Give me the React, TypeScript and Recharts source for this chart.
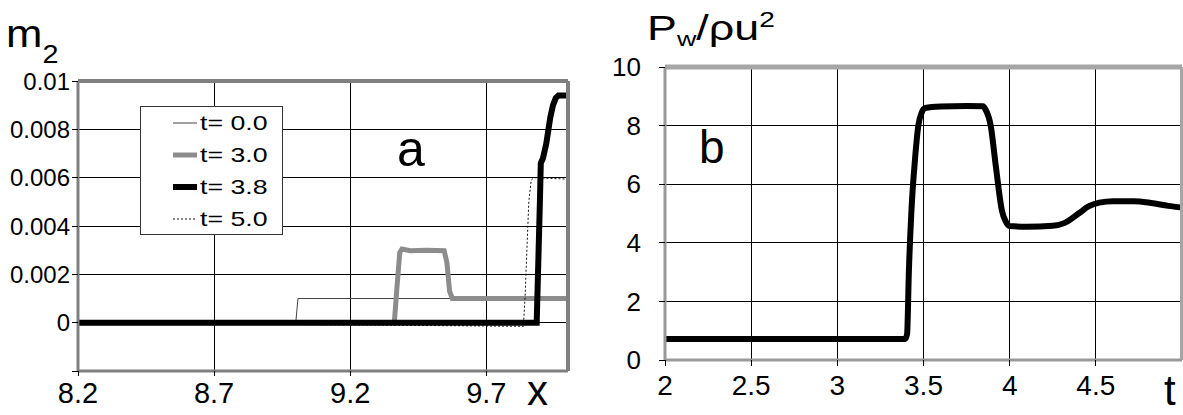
import React from 'react';
import { CartesianGrid, Legend, Line, LineChart, ReferenceLine, XAxis, YAxis } from 'recharts';

const FONT = '"Liberation Sans", Arial, Helvetica, sans-serif';

// panel a: m2 profiles along x at four moments
const xTicksA = [8.2, 8.7, 9.2, 9.7];
const yTicksA = [-0.002, 0, 0.002, 0.004, 0.006, 0.008, 0.01];

const profileT00 = [
  { x: 8.2, y: 0 },
  { x: 9.0, y: 0 },
  { x: 9.008, y: 0.001 },
  { x: 10.0, y: 0.001 },
];
const profileT30 = [
  { x: 8.2, y: 0 },
  { x: 9.362, y: 0 },
  { x: 9.372, y: 0.0015 },
  { x: 9.382, y: 0.0029 },
  { x: 9.39, y: 0.00305 },
  { x: 9.42, y: 0.00298 },
  { x: 9.48, y: 0.003 },
  { x: 9.545, y: 0.00298 },
  { x: 9.555, y: 0.0025 },
  { x: 9.565, y: 0.0013 },
  { x: 9.575, y: 0.001 },
  { x: 10.0, y: 0.001 },
];
const profileT38 = [
  { x: 8.2, y: 0 },
  { x: 9.885, y: 0 },
  { x: 9.897, y: 0.0051 },
  { x: 9.9, y: 0.0066 },
  { x: 9.908, y: 0.0068 },
  { x: 9.92, y: 0.0074 },
  { x: 9.935, y: 0.0085 },
  { x: 9.945, y: 0.009 },
  { x: 9.955, y: 0.0093 },
  { x: 9.965, y: 0.0094 },
  { x: 10.0, y: 0.0094 },
];
const profileT50 = [
  { x: 8.2, y: 0 },
  { x: 9.836, y: -0.00015 },
  { x: 9.842, y: 0.001 },
  { x: 9.856, y: 0.005 },
  { x: 9.865, y: 0.0059 },
  { x: 9.875, y: 0.006 },
  { x: 10.0, y: 0.00594 },
];

const seriesA = [
  { name: 't= 0.0', data: profileT00, color: '#444444', width: 1, dash: undefined as string | undefined },
  { name: 't= 3.0', data: profileT30, color: '#8c8c8c', width: 5, dash: undefined },
  { name: 't= 5.0', data: profileT50, color: '#111111', width: 1, dash: '2 2' },
  { name: 't= 3.8', data: profileT38, color: '#000000', width: 6, dash: undefined },
];
const legendOrder = ['t= 0.0', 't= 3.0', 't= 3.8', 't= 5.0'];

// panel b: wall pressure vs time
const tTicksB = [2, 2.5, 3, 3.5, 4, 4.5];
const pTicksB = [0, 2, 4, 6, 8, 10];
const pressure = [
  { t: 2.0, p: 0.72 },
  { t: 3.0, p: 0.72 },
  { t: 3.395, p: 0.72 },
  { t: 3.405, p: 0.9 },
  { t: 3.415, p: 3.0 },
  { t: 3.43, p: 5.1 },
  { t: 3.45, p: 6.8 },
  { t: 3.47, p: 8.0 },
  { t: 3.49, p: 8.45 },
  { t: 3.51, p: 8.6 },
  { t: 3.6, p: 8.65 },
  { t: 3.75, p: 8.67 },
  { t: 3.845, p: 8.66 },
  { t: 3.86, p: 8.55 },
  { t: 3.89, p: 8.0 },
  { t: 3.92, p: 6.6 },
  { t: 3.955, p: 5.1 },
  { t: 3.975, p: 4.75 },
  { t: 4.0, p: 4.57 },
  { t: 4.1, p: 4.55 },
  { t: 4.25, p: 4.58 },
  { t: 4.32, p: 4.68 },
  { t: 4.4, p: 5.0 },
  { t: 4.46, p: 5.25 },
  { t: 4.52, p: 5.37 },
  { t: 4.6, p: 5.42 },
  { t: 4.72, p: 5.42 },
  { t: 4.82, p: 5.36 },
  { t: 4.92, p: 5.26 },
  { t: 5.0, p: 5.2 },
];

function LegendBox() {
  return (
    <div
      style={{
        width: 141,
        height: 127,
        border: '1px solid #333',
        background: '#fff',
        fontFamily: FONT,
      }}
    >
      {legendOrder.map(name => {
        const s = seriesA.find(item => item.name === name)!;
        return (
          <div key={name} style={{ height: 32, display: 'flex', alignItems: 'center' }}>
            <svg width={59} height={32} style={{ display: 'block' }}>
              <line x1={32} x2={56} y1={16} y2={16} stroke={s.color} strokeWidth={s.width} strokeDasharray={s.dash} />
            </svg>
            <span
              style={{
                fontSize: 21,
                lineHeight: '32px',
                display: 'inline-block',
                transform: 'scaleX(1.27)',
                transformOrigin: 'left center',
                whiteSpace: 'pre',
              }}
            >
              {name}
            </span>
          </div>
        );
      })}
    </div>
  );
}

function PanelA() {
  return (
    <LineChart width={600} height={415} margin={{ top: 81, right: 32, bottom: 0, left: 0 }}>
      <CartesianGrid stroke="#000" strokeWidth={1} />
      <XAxis
        type="number"
        dataKey="x"
        domain={[8.2, 10]}
        ticks={xTicksA}
        allowDataOverflow
        height={44}
        tickSize={5}
        tickMargin={6}
        tickLine={{ stroke: '#000' }}
        axisLine={{ stroke: '#808080', strokeWidth: 3 }}
        tick={{ fontSize: 29, fill: '#000', fontFamily: FONT }}
        tickFormatter={(v: number) => String(v)}
      />
      <YAxis
        type="number"
        domain={[-0.002, 0.01]}
        ticks={yTicksA}
        allowDataOverflow
        width={78}
        tickSize={6}
        tickMargin={2}
        tickLine={{ stroke: '#000' }}
        axisLine={{ stroke: '#808080', strokeWidth: 3 }}
        tick={{ fontSize: 24, fill: '#000', fontFamily: FONT }}
        tickFormatter={(v: number) => (v < 0 ? '' : String(v))}
      />
      {seriesA.map(s => (
        <Line
          key={s.name}
          data={s.data}
          dataKey="y"
          name={s.name}
          type="linear"
          stroke={s.color}
          strokeWidth={s.width}
          strokeDasharray={s.dash}
          dot={false}
          isAnimationActive={false}
        />
      ))}
      <ReferenceLine y={0.01} stroke="#808080" strokeWidth={4} />
      <ReferenceLine x={10} stroke="#808080" strokeWidth={4} />
      <Legend
        layout="vertical"
        align="center"
        verticalAlign="middle"
        content={() => <LegendBox />}
        wrapperStyle={{ left: 140, top: 106, width: 143, height: 129 }}
      />
    </LineChart>
  );
}

function PanelB() {
  return (
    <LineChart width={583} height={415} data={pressure} margin={{ top: 67, right: 1, bottom: 0, left: 0 }}>
      <CartesianGrid stroke="#000" strokeWidth={1} />
      <XAxis
        type="number"
        dataKey="t"
        domain={[2, 5]}
        ticks={tTicksB}
        allowDataOverflow
        height={55}
        tickSize={6}
        tickMargin={9}
        tickLine={{ stroke: '#000' }}
        axisLine={{ stroke: '#999', strokeWidth: 3 }}
        tick={{ fontSize: 28, fill: '#000', fontFamily: FONT }}
      />
      <YAxis
        type="number"
        domain={[0, 10]}
        ticks={pTicksB}
        width={65}
        tickSize={6}
        tickMargin={18}
        tickLine={{ stroke: '#000' }}
        axisLine={{ stroke: '#999', strokeWidth: 3 }}
        tick={{ fontSize: 26, fill: '#000', fontFamily: FONT }}
      />
      <Line
        dataKey="p"
        type="monotone"
        stroke="#000"
        strokeWidth={6}
        dot={false}
        isAnimationActive={false}
      />
      <ReferenceLine y={10} stroke="#a6a6a6" strokeWidth={5} />
      <ReferenceLine x={5} stroke="#a6a6a6" strokeWidth={4} />
    </LineChart>
  );
}

export default function App() {
  return (
    <div
      style={{
        position: 'fixed',
        left: 0,
        top: 0,
        width: 1183,
        height: 415,
        background: '#fff',
        overflow: 'hidden',
        fontFamily: FONT,
      }}
    >
      <style>{`.recharts-cartesian-grid line, .recharts-cartesian-axis-tick-line { shape-rendering: crispEdges; }`}</style>
      <div style={{ position: 'absolute', left: 0, top: 0 }}>
        <PanelA />
      </div>
      <div style={{ position: 'absolute', left: 600, top: 0 }}>
        <PanelB />
      </div>
      <svg
        width={1183}
        height={415}
        style={{ position: 'absolute', left: 0, top: 0, pointerEvents: 'none' }}
        fontFamily={FONT}
      >
        <text transform="translate(6,47) scale(1.15,1)" fontSize={38} fill="#000">
          m<tspan fontSize={25} dy={16}>2</tspan>
        </text>
        <text x={397} y={166} fontSize={50} fill="#000">a</text>
        <text x={527} y={405} fontSize={42} fill="#000">x</text>
        <text transform="translate(647,40) scale(1.28,1)" fontSize={35} fill="#000">
          P<tspan fontSize={21} dy={6}>w</tspan>
          <tspan fontSize={35} dy={-6}>/ρu</tspan>
          <tspan fontSize={22} dy={-13}>2</tspan>
        </text>
        <text x={699} y={163} fontSize={46} fill="#000">b</text>
        <text x={1164} y={405} fontSize={42} fill="#000">t</text>
      </svg>
    </div>
  );
}
